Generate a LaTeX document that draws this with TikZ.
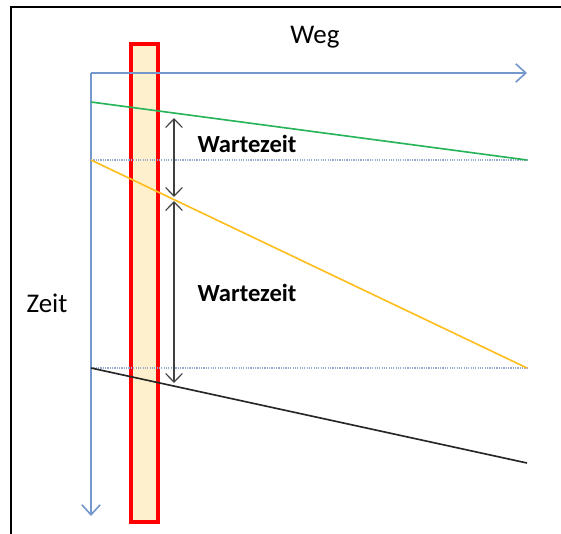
\documentclass[tikz,border=0pt]{standalone}
\usepackage{fontspec}
\setmainfont{Carlito}
\usetikzlibrary{positioning, arrows.meta, calc}
\definecolor{axisblue}{RGB}{116,152,204}
\definecolor{gridblue}{RGB}{150,170,210}
\definecolor{stopfill}{RGB}{255,240,205}
\definecolor{linegreen}{RGB}{40,180,90}
\definecolor{lineyellow}{RGB}{255,190,30}

\begin{document}
\begin{tikzpicture}[x=0.03cm, y=-0.03cm,
  axis/.style={-{Straight Barb[length=3mm, width=5.5mm]}, line width=1.4pt, color=axisblue},
  grid/.style={densely dotted, line width=1pt, color=gridblue},
  train/.style={line width=1.4pt},
  wait/.style={{Straight Barb[length=2.6mm, width=5mm]}-{Straight Barb[length=2.6mm, width=5mm]}, line width=1pt, black!75},
  lbl/.style={font=\fontsize{23}{27}\selectfont, inner sep=0pt},
  waitlbl/.style={font=\fontsize{21}{25}\selectfont\bfseries, inner sep=0pt}]
\useasboundingbox (0,0) rectangle (561,534);
\draw[line width=1.3pt] (11,540) -- (11,7) -- (570,7);
% Haltestelle
\draw[red, line width=3.5pt, fill=stopfill] (131,44) rectangle (158,522);
% Achsen
\coordinate (o) at (91,73);
\coordinate (xend) at (527,73);
\coordinate (yend) at (91,516);
\draw[axis] (o) -- (xend);
\draw[axis] (o) -- (yend);
\node[lbl] (weg) at (315,37) {Weg};
\node[lbl] (zeit) at (47,303) {Zeit};
% Zeitlinien
\coordinate (g1) at (91,160);
\coordinate (g2) at (527,160);
\coordinate (y1) at (91,368);
\coordinate (y2) at (527,368);
\draw[grid] (g1) -- (g2);
\draw[grid] (y1) -- (y2);
% Fahrten
\coordinate (gs) at (91,102);
\coordinate (bs) at (527,463);
\draw[train, linegreen] (gs) -- (g2);
\draw[train, lineyellow] (g1) -- (y2);
\draw[train, black!85] (y1) -- (bs);
% Wartezeiten
\coordinate (w1) at (174,118);
\coordinate (w2) at (174,197);
\coordinate (w3) at (174,201);
\coordinate (w4) at (174,383);
\draw[wait] (w1) -- (w2);
\draw[wait] (w3) -- (w4);
\node[waitlbl] (wz1) at (247,144) {Wartezeit};
\node[waitlbl] (wz2) at (247,293) {Wartezeit};
\end{tikzpicture}
\end{document}
